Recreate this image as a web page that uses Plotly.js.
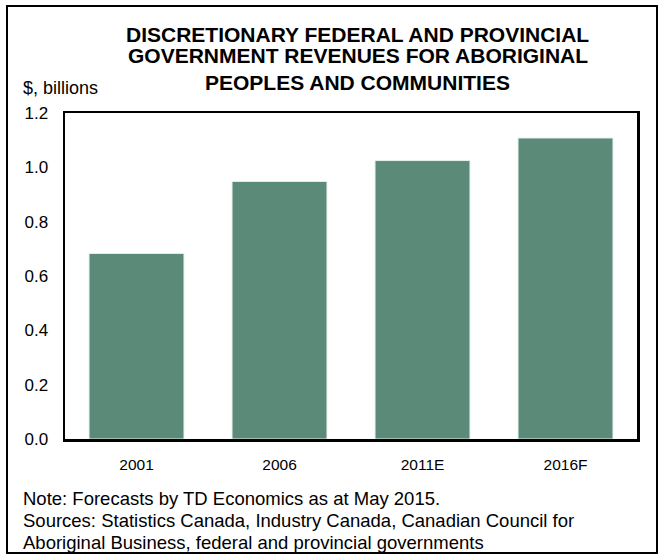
<!DOCTYPE html>
<html><head><meta charset="utf-8">
<script src="https://cdn.plot.ly/plotly-3.0.1.min.js"></script>
<style>
html,body{margin:0;padding:0;background:#fff;}
#wrap{position:relative;width:662px;height:558px;}
#chart{width:662px;height:558px;}
#frame{position:absolute;left:6px;top:5px;width:648px;height:545px;border:2px solid #000;pointer-events:none;}
</style></head>
<body>
<div id="wrap"><div id="chart"></div><div id="frame"></div></div>
<script>
const categories = ["2001", "2006", "2011E", "2016F"];
const revenues = [0.683, 0.948, 1.025, 1.108];
const yTicks = [0, 0.2, 0.4, 0.6, 0.8, 1.0, 1.2];
const yTickLabels = ["0.0", "0.2", "0.4", "0.6", "0.8", "1.0", "1.2"];
const titleLines = ["DISCRETIONARY FEDERAL AND PROVINCIAL", "GOVERNMENT REVENUES FOR ABORIGINAL", "PEOPLES AND COMMUNITIES"];
const noteLines = ["Note: Forecasts by TD Economics as at May 2015.", "Sources: Statistics Canada, Industry Canada, Canadian Council for", "Aboriginal Business, federal and provincial governments"];
const yUnit = "$, billions";

const W = 662, H = 558, L = 65, R = 25, T = 113, B = 119;
const pw = W - L - R, ph = H - T - B;
const px = x => (x - L) / pw;
const py = y => (H - B - y) / ph;
const font = "Liberation Sans, Arial, sans-serif";

const annotations = [];
const titleY = [34, 56, 82];
titleLines.forEach((t, i) => annotations.push({
  text: t, xref: 'paper', yref: 'paper', x: px(358), y: py(titleY[i]),
  xanchor: 'center', yanchor: 'middle', showarrow: false,
  font: {family: font, size: 21, color: '#000', weight: 'bold'}
}));
annotations.push({
  text: yUnit, xref: 'paper', yref: 'paper', x: px(21), y: py(88),
  xanchor: 'left', yanchor: 'middle', showarrow: false,
  font: {family: font, size: 18, color: '#000'}
});
const noteY = [498, 520, 542];
noteLines.forEach((t, i) => annotations.push({
  text: t, xref: 'paper', yref: 'paper', x: px(21), y: py(noteY[i]),
  xanchor: 'left', yanchor: 'middle', showarrow: false,
  font: {family: font, size: 18.5, color: '#000'}
}));

Plotly.newPlot('chart', [{
  type: 'bar', x: categories, y: revenues,
  marker: {color: '#5b8b78', line: {color: '#e6eeea', width: 1}},
  hoverinfo: 'x+y'
}], {
  width: W, height: H,
  margin: {l: L, r: R, t: T, b: B, pad: 0},
  paper_bgcolor: '#fff', plot_bgcolor: '#fff',
  bargap: 0.336,
  showlegend: false,
  xaxis: {
    type: 'category',
    showline: true, mirror: true, linecolor: '#000', linewidth: 2.5,
    ticks: '', ticklabelstandoff: 10, showgrid: false, zeroline: false,
    tickfont: {family: font, size: 15.5, color: '#000'}
  },
  yaxis: {
    range: [0, 1.2], tickvals: yTicks, ticktext: yTickLabels,
    showline: true, mirror: true, linecolor: '#000', linewidth: 2.5,
    ticks: '', ticklabelstandoff: 11, showgrid: false, zeroline: false,
    tickfont: {family: font, size: 17, color: '#000'}
  },
  annotations: annotations
}, {staticPlot: true});
</script>
</body></html>
